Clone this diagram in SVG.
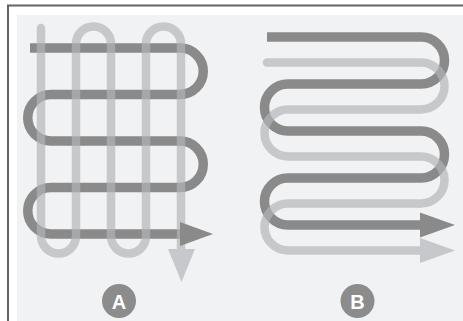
<svg xmlns="http://www.w3.org/2000/svg" width="463" height="321" viewBox="0 0 463 321">
  <style>
    .dark { fill: none; stroke: #8a8a8a; stroke-width: 9.5; stroke-linejoin: round; }
    .darkhead { fill: #8a8a8a; }
    .light { fill: none; stroke: #b4b5b8; stroke-width: 8.5; stroke-linejoin: round; }
    .lighthead { fill: #b4b5b8; }
    .lightlayer { opacity: 0.68; }
    .badge { fill: #8c8c8c; }
    .badgetext { fill: #ffffff; font-family: "Liberation Sans", Arial, sans-serif; font-weight: bold; font-size: 20px; text-anchor: middle; }
  </style>
  <rect x="0" y="0" width="463" height="321" fill="#ffffff"/>
  <rect x="17" y="15" width="446" height="306" fill="#f1f2f4"/>
  <g id="frame" stroke="#646464" stroke-width="2" fill="none">
    <line x1="8" y1="5" x2="8" y2="321"/>
    <line x1="7" y1="5.5" x2="463" y2="5.5"/>
  </g>

  <g id="panel-a">
    <g id="a-dark-path">
      <path class="dark" d="M30,48 H180 A23.25,23.25 0 0 1 180,94.5 H51 A23.25,23.25 0 0 0 51,141 H180 A23.25,23.25 0 0 1 180,187.5 H51 A23.25,23.25 0 0 0 51,234 H181"/>
    </g>
    <g id="a-light-path" class="lightlayer">
      <path class="light" stroke-linecap="round" d="M41,28 V236 A17.5,17.5 0 0 0 76,236 V44 A17.5,17.5 0 0 1 111,44 V236 A17.5,17.5 0 0 0 146,236 V44 A17.5,17.5 0 0 1 181,44 V250"/>
      <polygon class="lighthead" points="168,249 195,249 181.5,282"/>
    </g>
    <g id="a-dark-head">
      <polygon class="darkhead" points="180,222 213,234 180,246"/>
    </g>
    <g id="label-a">
      <circle class="badge" cx="119" cy="301" r="17"/>
      <text class="badgetext" x="119" y="308.5">A</text>
    </g>
  </g>

  <g id="panel-b">
    <g id="b-dark-path">
      <path class="dark" d="M267,37 H421 A23.5,23.5 0 0 1 421,84 H288 A23.5,23.5 0 0 0 288,131 H421 A23.5,23.5 0 0 1 421,178 H288 A23.5,23.5 0 0 0 288,225 H421"/>
      <polygon class="darkhead" points="420,212.5 455,225 420,237.5"/>
    </g>
    <g id="b-light-path" class="lightlayer">
      <path class="light" stroke-linecap="round" d="M267,62.5 H421 A23.5,23.5 0 0 1 421,109.5 H288 A23.5,23.5 0 0 0 288,156.5 H421 A23.5,23.5 0 0 1 421,203.5 H288 A23.5,23.5 0 0 0 288,250.5 H421"/>
      <polygon class="lighthead" points="420,238 455,250.5 420,263"/>
    </g>
    <g id="label-b">
      <circle class="badge" cx="357.5" cy="301" r="17"/>
      <text class="badgetext" x="357.5" y="308.5">B</text>
    </g>
  </g>
</svg>
